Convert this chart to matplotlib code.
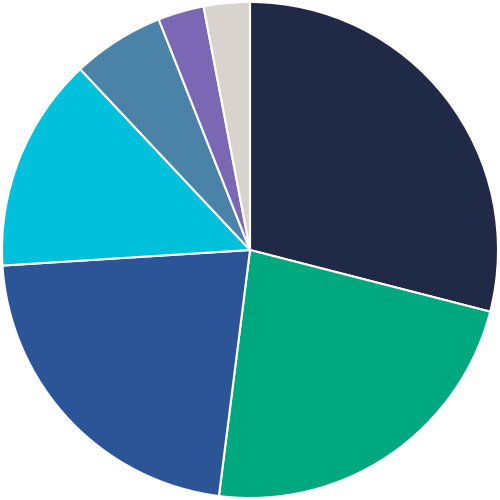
import matplotlib
matplotlib.use("Agg")
import matplotlib.pyplot as plt

# shares of each slice (clockwise from 12 o'clock)
valores = [29, 23, 22, 14, 6, 3, 3]
cores = ['#202A46', '#00A880', '#2C5597', '#00C0DC', '#4A82A8', '#7B68B5', '#D8D3CD']

fig = plt.figure(figsize=(5, 5), dpi=100)
ax = fig.add_axes([0, 0, 1, 1])
ax.pie(valores, colors=cores, startangle=90, counterclock=False,
       radius=1.0, wedgeprops={'edgecolor': 'white', 'linewidth': 1.5})
ax.set_xlim(-1.008, 1.008)
ax.set_ylim(-1.008, 1.008)
ax.set_aspect('equal')
ax.axis('off')

plt.savefig('out.png', dpi=100, facecolor='white')
plt.close()
